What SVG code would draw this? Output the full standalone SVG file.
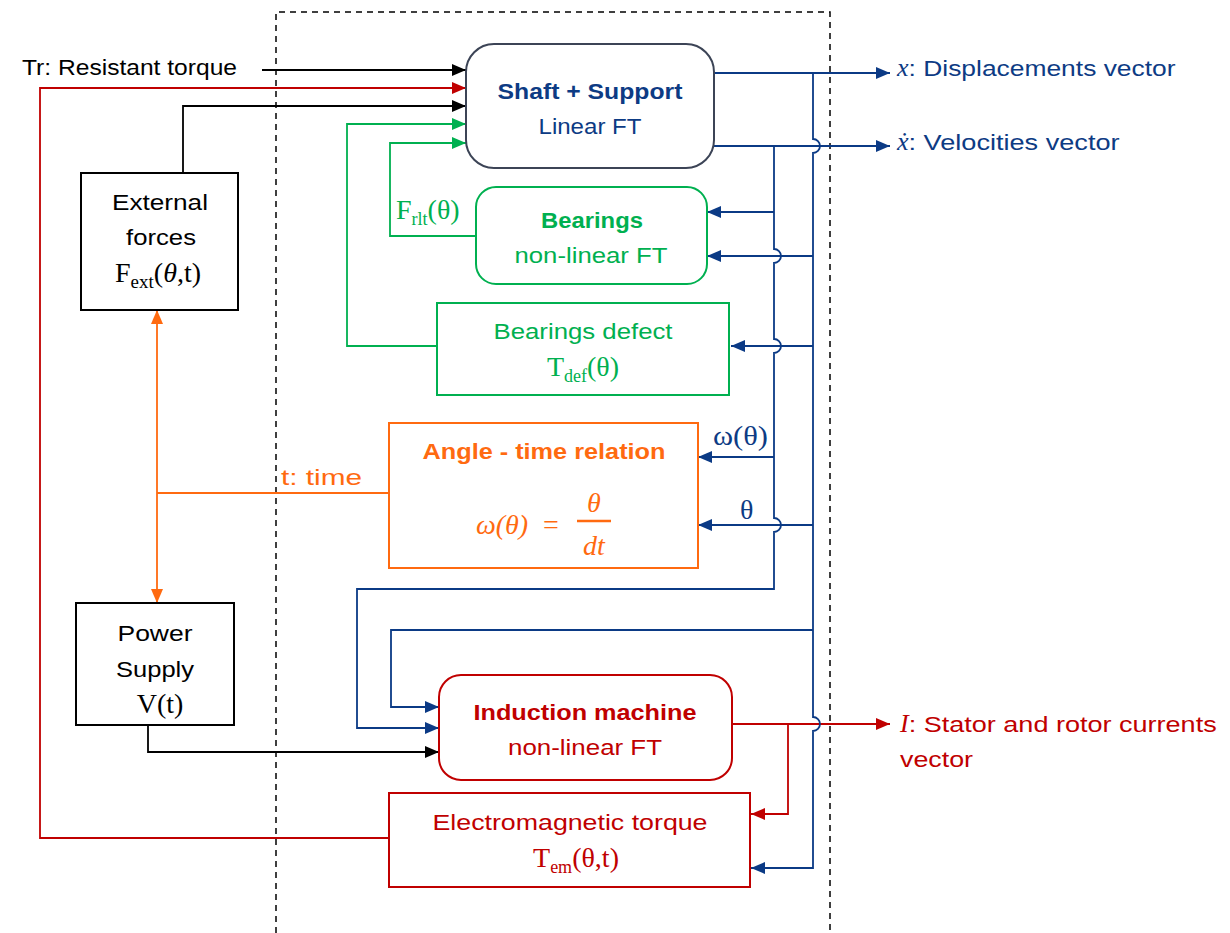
<svg xmlns="http://www.w3.org/2000/svg" width="1230" height="933" viewBox="0 0 1230 933">
<defs>
<marker id="ak" markerUnits="userSpaceOnUse" markerWidth="14" markerHeight="12" refX="14" refY="6" orient="auto-start-reverse"><path d="M0,0 L14,6 L0,12 z" fill="#000"/></marker>
<marker id="ab" markerUnits="userSpaceOnUse" markerWidth="14" markerHeight="12" refX="14" refY="6" orient="auto-start-reverse"><path d="M0,0 L14,6 L0,12 z" fill="#0b3a85"/></marker>
<marker id="ar" markerUnits="userSpaceOnUse" markerWidth="14" markerHeight="12" refX="14" refY="6" orient="auto-start-reverse"><path d="M0,0 L14,6 L0,12 z" fill="#c00000"/></marker>
<marker id="ag" markerUnits="userSpaceOnUse" markerWidth="14" markerHeight="12" refX="14" refY="6" orient="auto-start-reverse"><path d="M0,0 L14,6 L0,12 z" fill="#00b050"/></marker>
<marker id="ao" markerUnits="userSpaceOnUse" markerWidth="14" markerHeight="12" refX="14" refY="6" orient="auto-start-reverse"><path d="M0,0 L14,6 L0,12 z" fill="#ff6a10"/></marker>
</defs>
<style>
text{font-family:"Liberation Sans",Arial,sans-serif;font-size:22px;}
.b{font-weight:bold;}
.m{text-anchor:middle;}
.serif{font-family:"Liberation Serif","Times New Roman",serif;font-size:28px;}
.k{fill:#000;} .bl{fill:#0d3b84;} .gr{fill:#00b050;} .or{fill:#ff6a10;} .rd{fill:#c00000;}
.lk{fill:none;stroke:#000;stroke-width:1.8;}
.lb{fill:none;stroke:#0b3a85;stroke-width:1.8;}
.lr{fill:none;stroke:#c00000;stroke-width:1.8;}
.lg{fill:none;stroke:#00b050;stroke-width:1.8;}
.lo{fill:none;stroke:#ff6a10;stroke-width:1.8;}
</style>
<rect width="1230" height="933" fill="#fff"/>

<!-- dashed boundary -->
<path d="M276,933 V12 H830 V933" fill="none" stroke="#000" stroke-width="1.5" stroke-dasharray="6,5"/>

<g id="connectors">
<path class="lk" d="M262,70 H466" marker-end="url(#ak)"/>
<path class="lk" d="M183,173 V106 H466" marker-end="url(#ak)"/>
<path class="lk" d="M148,725 V752 H439" marker-end="url(#ak)"/>
<path class="lr" d="M389,838 H40 V88 H466" marker-end="url(#ar)"/>
<path class="lr" d="M732,724 H890" marker-end="url(#ar)"/>
<path class="lr" d="M788,724 V814 H751" marker-end="url(#ar)"/>
<path class="lg" d="M437,346 H347 V124 H466" marker-end="url(#ag)"/>
<path class="lg" d="M476,236 H390 V143 H466" marker-end="url(#ag)"/>
<path class="lo" d="M157,310 V603" marker-start="url(#ao)" marker-end="url(#ao)"/>
<path class="lo" d="M389,493 H157"/>
<path class="lb" d="M714,73 H890" marker-end="url(#ab)"/>
<path class="lb" d="M714,146 H890" marker-end="url(#ab)"/>
<path class="lb" d="M813,73 V139 A7,7 0 0 1 813,153 V717 A7,7 0 0 1 813,731 V868 H751" marker-end="url(#ab)"/>
<path class="lb" d="M774,146 V249 A7,7 0 0 1 774,263 V339 A7,7 0 0 1 774,353 V518 A7,7 0 0 1 774,532 V589 H357 V728 H439" marker-end="url(#ab)"/>
<path class="lb" d="M774,212 H707" marker-end="url(#ab)"/>
<path class="lb" d="M813,256 H707" marker-end="url(#ab)"/>
<path class="lb" d="M813,346 H731" marker-end="url(#ab)"/>
<path class="lb" d="M774,457 H698" marker-end="url(#ab)"/>
<path class="lb" d="M813,525 H698" marker-end="url(#ab)"/>
<path class="lb" d="M813,630 H391 V707 H439" marker-end="url(#ab)"/>
</g>

<g id="labels">
<text class="k" x="22" y="75" textLength="215" lengthAdjust="spacingAndGlyphs">Tr: Resistant torque</text>
<text class="serif gr" x="396" y="219" font-size="29">F<tspan font-size="18" dy="6">rlt</tspan><tspan dy="-6">(θ)</tspan></text>
<text class="or" x="281" y="485" textLength="81" lengthAdjust="spacingAndGlyphs">t: time</text>
<text class="serif bl" x="713" y="445" font-size="25" textLength="55" lengthAdjust="spacingAndGlyphs">ω(θ)</text>
<text class="serif bl" x="740" y="519" font-size="25">θ</text>
<text class="bl" x="897" y="76"><tspan font-family="Liberation Serif" font-style="italic" font-size="26">x</tspan><tspan textLength="267" lengthAdjust="spacingAndGlyphs">: Displacements vector</tspan></text>
<text class="bl" x="897" y="150"><tspan font-family="Liberation Serif" font-style="italic" font-size="26">ẋ</tspan><tspan textLength="211" lengthAdjust="spacingAndGlyphs">: Velocities vector</tspan></text>
<text class="rd" x="900" y="732"><tspan font-family="Liberation Serif" font-style="italic" font-size="26">I</tspan><tspan textLength="308" lengthAdjust="spacingAndGlyphs">: Stator and rotor currents</tspan></text>
<text class="rd" x="900" y="767" textLength="73" lengthAdjust="spacingAndGlyphs">vector</text>
</g>

<g id="shaft">
<rect x="466" y="44" width="248" height="124" rx="28" fill="#fff" stroke="#3c4456" stroke-width="2"/>
<text class="b bl m" x="590" y="99" textLength="185" lengthAdjust="spacingAndGlyphs">Shaft + Support</text>
<text class="bl m" x="590" y="134" textLength="103" lengthAdjust="spacingAndGlyphs">Linear FT</text>
</g>

<g id="bearings">
<rect x="476" y="187" width="231" height="97" rx="20" fill="#fff" stroke="#00b050" stroke-width="2"/>
<text class="b gr m" x="592" y="228" textLength="102" lengthAdjust="spacingAndGlyphs">Bearings</text>
<text class="gr m" x="591" y="263" textLength="153" lengthAdjust="spacingAndGlyphs">non-linear FT</text>
</g>

<g id="bearings-defect">
<rect x="437" y="303" width="292" height="92" fill="#fff" stroke="#00b050" stroke-width="2"/>
<text class="gr m" x="583" y="339" textLength="179" lengthAdjust="spacingAndGlyphs">Bearings defect</text>
<text class="serif gr m" x="583" y="376" font-size="29">T<tspan font-size="18" dy="6">def</tspan><tspan dy="-6">(θ)</tspan></text>
</g>

<g id="angle-time">
<rect x="389" y="423" width="309" height="145" fill="#fff" stroke="#ff6a10" stroke-width="2"/>
<text class="b or m" x="544" y="459" textLength="243" lengthAdjust="spacingAndGlyphs">Angle - time relation</text>
<text class="serif or" x="476" y="534" font-size="31" font-style="italic">ω(θ)</text>
<text class="serif or" x="543" y="534" font-size="31">=</text>
<text class="serif or m" x="594" y="512" font-size="30" font-style="italic">θ</text>
<line x1="577" y1="521" x2="611" y2="521" stroke="#ff6a10" stroke-width="2.5"/>
<text class="serif or m" x="594" y="555" font-size="30" font-style="italic">dt</text>
</g>

<g id="external-forces">
<rect x="81" y="173" width="157" height="137" fill="#fff" stroke="#000" stroke-width="2"/>
<text class="k m" x="160" y="210" textLength="96" lengthAdjust="spacingAndGlyphs">External</text>
<text class="k m" x="161" y="245" textLength="70" lengthAdjust="spacingAndGlyphs">forces</text>
<text class="serif k m" x="158" y="282" font-size="30">F<tspan font-size="19" dy="6">ext</tspan><tspan dy="-6">(</tspan><tspan font-style="italic">θ</tspan>,t)</text>
</g>

<g id="power-supply">
<rect x="76" y="603" width="158" height="122" fill="#fff" stroke="#000" stroke-width="2"/>
<text class="k m" x="155" y="641" textLength="75" lengthAdjust="spacingAndGlyphs">Power</text>
<text class="k m" x="155" y="677" textLength="78" lengthAdjust="spacingAndGlyphs">Supply</text>
<text class="serif k m" x="160" y="713" font-size="30">V(t)</text>
</g>

<g id="induction-machine">
<rect x="439" y="675" width="293" height="105" rx="22" fill="#fff" stroke="#c00000" stroke-width="2"/>
<text class="b rd m" x="585" y="720" textLength="223" lengthAdjust="spacingAndGlyphs">Induction machine</text>
<text class="rd m" x="585" y="755" textLength="154" lengthAdjust="spacingAndGlyphs">non-linear FT</text>
</g>

<g id="em-torque">
<rect x="389" y="793" width="361" height="94" fill="#fff" stroke="#c00000" stroke-width="2"/>
<text class="rd m" x="570" y="830" textLength="275" lengthAdjust="spacingAndGlyphs">Electromagnetic torque</text>
<text class="serif rd m" x="576" y="867" font-size="29">T<tspan font-size="18" dy="6">em</tspan><tspan dy="-6">(θ,t)</tspan></text>
</g>
</svg>
